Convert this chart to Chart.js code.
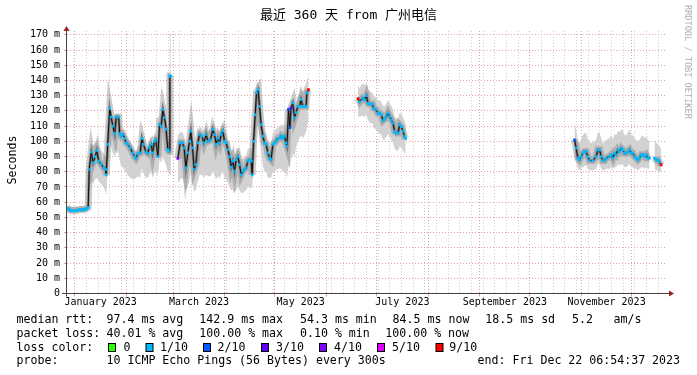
<!DOCTYPE html>
<html>
<head>
<meta charset="utf-8">
<script src="https://cdn.jsdelivr.net/npm/chart.js@4.4.0/dist/chart.umd.min.js"></script>
<style>
    html, body { margin: 0; padding: 0; background: #fff; }
    canvas { display: block; }
</style>
</head>
<body>
<canvas id="grafico" width="697" height="375"></canvas>
<script>
// Eje X en días desde el 1 de enero de 2023
const inicio = -4.71;   // 27 dic 2022 06:54
const fin = 355.29;     // 22 dic 2023 06:54

// Marcas del eje X
const iniciosMes = [0, 31, 59, 90, 120, 151, 181, 212, 243, 273, 304, 334];
const posEtiquetas = [15.5, 74.5, 135.5, 196.5, 258, 319];
const textoEtiquetas = ['January 2023', 'March 2023', 'May 2023', 'July 2023', 'September 2023', 'November 2023'];

// Marcas del eje Y (ms)
const marcasY = [0, 5, 10, 15, 20, 25, 30, 35, 40, 45, 50, 55, 60, 65, 70, 75, 80, 85,
    90, 95, 100, 105, 110, 115, 120, 125, 130, 135, 140, 145, 150, 155, 160, 165, 170];
const etiquetasY = ['0', '10 m', '20 m', '30 m', '40 m', '50 m', '60 m', '70 m', '80 m',
    '90 m', '100 m', '110 m', '120 m', '130 m', '140 m', '150 m', '160 m', '170 m'];

// Tramo 1: fin de dic - 1 mar
const t1Dia = [-4.6, -3.6, -2.6, -1.6, -0.6, 0.4, 1.4, 2.4, 3.4, 4.4,
    5.4, 6.4, 7.4, 8.0, 8.6, 9.8, 10.9, 12.2, 13.2, 14.3,
    15.8, 17.3, 18.5, 18.8, 19.7, 20.9, 21.8, 22.8, 23.9, 24.8,
    26.3, 26.9, 27.8, 28.8, 29.9, 30.8, 31.8, 33.2, 34.7, 35.9,
    36.6, 37.8, 39.2, 40.2, 41.2, 42.6, 43.8, 44.6, 45.8, 46.6,
    47.8, 48.6, 49.8, 50.8, 51.8, 52.8, 53.8, 54.8, 55.8, 56.6,
    57.0, 57.6];
const t1Med = [56, 55.5, 54.5, 54.5, 54.3, 54.5, 54.5, 55, 55, 55,
    55, 55.5, 56, 56.5, 81.5, 93, 86, 90, 94, 87,
    85, 82.5, 81.5, 78, 98, 121.6, 116, 110, 105, 116,
    116, 105, 103.4, 104.5, 102, 99, 98, 95.7, 92.4, 90,
    89, 91.8, 92.4, 102, 98, 93, 92, 96, 98, 92.4,
    100, 101, 90, 111, 110, 121, 115.5, 108, 94.6, 93.5,
    142.9, 142.9];
const t1Bajo = [53.5, 53.5, 53, 53, 53, 53, 53, 53.5, 53.5, 53.5,
    53.5, 54, 54, 54.5, 68, 74, 72, 75, 76, 74,
    72, 70, 66, 65, 80, 98, 96, 92, 90, 94,
    92, 87, 84, 83, 81, 79, 78, 76, 75, 75,
    76, 77, 76, 82, 79, 76, 76, 78, 80, 76,
    79, 80, 77, 88, 86, 90, 87, 84, 80, 79,
    78, 78];
const t1Alto = [57.5, 57.5, 57, 57, 57, 57, 57, 57, 57.5, 57.5,
    57.5, 58, 58.5, 59, 84, 99, 97, 99, 100, 97,
    94, 92, 90, 90, 105, 124, 120, 116, 117, 118,
    118, 110, 108, 108, 106, 103, 102, 100, 96, 94,
    93, 96, 98, 107, 103, 97, 96, 100, 104, 97,
    105, 106, 96, 116, 119, 126, 120, 112, 100, 100,
    171, 171];
const t1Perd = [1, 1, 1, 1, 1, 1, 1, 1, 1, 1,
    1, 1, 1, 1, 1, 1, 1, 1, 1, 1,
    1, 1, 1, 1, 1, 1, 1, 1, 1, 1,
    1, 1, 1, 1, 1, 1, 1, 1, 1, 1,
    1, 1, 1, 1, 1, 1, 1, 1, 1, 1,
    1, 1, 1, 1, 1, 1, 1, 1, 1, 1,
    1, 1];

// Tramo 2: 3 mar - 21 may
const t2Dia = [61.8, 63.2, 64.6, 65.6, 66.6, 67.8, 68.8, 69.6, 70.6, 71.6,
    72.6, 73.8, 74.8, 76.2, 77.4, 78.8, 79.8, 81.4, 82.8, 83.8,
    84.8, 85.8, 86.8, 87.8, 88.8, 89.8, 90.8, 91.8, 92.8, 93.8,
    94.8, 95.8, 96.8, 97.8, 98.8, 99.8, 100.8, 101.8, 102.8, 103.8,
    104.8, 105.8, 106.4, 107.2, 108.2, 109.0, 110.0, 110.8, 111.8, 112.8,
    113.8, 114.8, 115.8, 116.8, 117.7, 118.8, 119.8, 120.7, 121.8, 122.8,
    123.7, 124.8, 125.8, 126.7, 127.3, 128.2, 129.0, 129.7, 130.8, 131.8,
    132.7, 133.8, 134.8, 135.7, 136.8, 137.8, 138.7, 139.3, 140.2];
const t2Med = [88.7, 99, 99, 95.7, 82.5, 92.4, 100, 106.7, 95.7, 81.5,
    84.7, 99, 104.5, 103.4, 99, 104.5, 100, 101, 107.8, 104.5,
    98, 102, 99, 104.5, 106.7, 100, 99, 94.6, 90, 83,
    87, 80.4, 88, 90, 84.7, 78, 80.4, 81.5, 82.5, 87,
    88, 87, 78, 100, 117.6, 132, 134, 123, 111, 103.4,
    99, 98, 92.4, 89, 88, 98, 99, 100, 102, 102,
    103.4, 102, 103.4, 99, 96.8, 121, 109, 122, 125.3, 115.5,
    118.8, 123, 123, 127.5, 123, 123, 123, 132, 134];
const t2Bajo = [73, 75, 76, 72, 67, 70, 74, 80, 72, 67,
    68, 74, 78, 78, 76, 78, 77, 77, 80, 78,
    75, 77, 76, 78, 80, 76, 75, 73, 70, 68,
    68, 66, 68, 70, 68, 66, 66, 67, 68, 70,
    70, 69, 70, 80, 96, 108, 112, 104, 92, 84,
    80, 80, 76, 76, 76, 80, 80, 81, 82, 82,
    82, 80, 80, 78, 76, 84, 82, 88, 92, 90,
    96, 100, 102, 104, 102, 104, 106, 110, 114];
const t2Alto = [104, 106, 106, 103, 96, 101, 106, 111, 104, 94,
    98, 106, 110, 109, 106, 110, 106, 108, 112, 110,
    105, 108, 106, 110, 112, 106, 105, 101, 97, 93,
    95, 90, 95, 96, 93, 88, 89, 90, 91, 95,
    96, 95, 92, 106, 124, 138, 140, 130, 118, 110,
    106, 105, 100, 97, 96, 106, 106, 108, 109, 110,
    111, 110, 112, 108, 106, 124, 120, 126, 128, 122,
    126, 130, 131, 134, 133, 136, 138, 141, 142];
const t2Perd = [4, 1, 1, 1, 1, 1, 1, 1, 1, 1,
    1, 1, 1, 1, 1, 1, 1, 1, 1, 1,
    1, 1, 1, 1, 1, 1, 1, 1, 1, 1,
    1, 1, 1, 1, 1, 1, 1, 1, 1, 1,
    1, 1, 1, 1, 1, 1, 1, 1, 1, 1,
    1, 1, 1, 1, 1, 1, 1, 1, 1, 1,
    1, 1, 1, 1, 1, 2, 2, 3, 1, 1,
    1, 1, 1, 1, 1, 1, 1, 1, 9];

// Tramo 3: 19 jun - 18 jul
const t3Dia = [169.9, 170.9, 172.5, 173.9, 174.9, 175.9, 176.9, 178.5, 179.3, 180.5,
    181.9, 182.9, 183.9, 184.9, 185.9, 186.9, 187.9, 188.9, 189.9, 190.9,
    191.9, 192.9, 193.9, 194.9, 195.9, 196.9, 197.9, 198.5];
const t3Med = [128, 126, 128.4, 127.3, 130, 125, 124.5, 124.5, 121.8, 121,
    118.5, 118.5, 117.4, 113.7, 114.6, 116.3, 118.5, 116.3, 114, 112,
    106.5, 105.4, 105.4, 110.8, 109.7, 106.5, 103.2, 102];
const t3Bajo = [117, 116, 117, 116, 118, 114, 112, 112, 109, 108,
    106, 105, 104, 101, 101, 103, 105, 103, 101, 99,
    95, 94, 94, 97, 96, 94, 92, 92];
const t3Alto = [137, 135, 138, 137, 138, 134, 133, 132, 130, 129,
    127, 127, 126, 123, 123, 125, 127, 125, 123, 121,
    116, 115, 115, 119, 118, 116, 113, 112];
const t3Perd = [9, 1, 1, 1, 1, 1, 1, 1, 1, 1,
    1, 1, 1, 1, 1, 1, 1, 1, 1, 1,
    1, 1, 1, 1, 1, 1, 1, 1];

// Tramo 4: 27 oct - 11 dic
const t4Dia = [299.8, 300.8, 301.8, 302.8, 303.8, 304.8, 305.8, 306.8, 307.8, 308.8,
    310.8, 312.8, 313.8, 314.8, 315.8, 316.8, 317.8, 318.8, 320.8, 321.8,
    322.8, 323.8, 324.8, 325.8, 326.8, 327.8, 328.8, 329.8, 330.8, 331.8,
    332.8, 333.8, 334.8, 335.8, 336.8, 337.8, 338.8, 339.8, 340.8, 341.8,
    342.8, 343.8, 344.8];
const t4Med = [101, 95.5, 89, 87.8, 90, 92.2, 93.3, 93.3, 90, 87.4,
    87.4, 90, 94.4, 94.4, 90, 87.4, 87.4, 89, 90, 91.1,
    89, 92.2, 91.1, 94.4, 93.3, 95.5, 94.4, 92.2, 92.2, 93.3,
    94.4, 92.2, 92.2, 90, 89, 87.8, 89, 91.1, 91.1, 90,
    91.1, 89, 89];
const t4Bajo = [90, 86, 82, 81, 82, 83, 84, 84, 82, 81,
    81, 82, 85, 85, 82, 81, 81, 82, 82, 83,
    82, 83, 83, 85, 84, 85, 85, 83, 83, 84,
    85, 83, 83, 82, 82, 81, 82, 83, 83, 82,
    83, 82, 82];
const t4Alto = [112, 108, 100, 99, 101, 104, 106, 105, 101, 99,
    99, 101, 106, 106, 102, 99, 99, 101, 102, 104,
    101, 105, 104, 107, 106, 108, 107, 104, 104, 106,
    108, 104, 104, 102, 101, 100, 101, 103, 104, 102,
    103, 101, 100];
const t4Perd = [2, 1, 1, 1, 1, 1, 1, 1, 1, 1,
    1, 1, 1, 1, 1, 1, 1, 1, 1, 1,
    1, 1, 1, 1, 1, 1, 1, 1, 1, 1,
    1, 1, 1, 1, 1, 1, 1, 1, 1, 1,
    1, 1, 1];

// Tramo 5: 14 - 18 dic
const t5Dia = [347.8, 348.8, 349.8, 350.8, 351.8];
const t5Med = [89, 87.8, 87.8, 86.4, 84.5];
const t5Bajo = [82, 81, 81, 80, 80];
const t5Alto = [101, 99, 98, 97, 95];
const t5Perd = [1, 1, 1, 1, 9];

// Colores de pérdida de paquetes
const colorPerdida = { 0: '#26ff00', 1: '#00b8ff', 2: '#0059ff', 3: '#5e00ff', 4: '#7e00ff', 5: '#dd00ff', 9: '#ff0000' };

const tramos = [
    { dia: t1Dia, med: t1Med, bajo: t1Bajo, alto: t1Alto, perd: t1Perd },
    { dia: t2Dia, med: t2Med, bajo: t2Bajo, alto: t2Alto, perd: t2Perd },
    { dia: t3Dia, med: t3Med, bajo: t3Bajo, alto: t3Alto, perd: t3Perd },
    { dia: t4Dia, med: t4Med, bajo: t4Bajo, alto: t4Alto, perd: t4Perd },
    { dia: t5Dia, med: t5Med, bajo: t5Bajo, alto: t5Alto, perd: t5Perd }
];

// Une los tramos con un punto nulo entre ellos para cortar la línea
function serie(campo) {
    const puntos = [];
    tramos.forEach((t, i) => {
        if (i > 0) puntos.push({ x: (tramos[i - 1].dia[tramos[i - 1].dia.length - 1] + t.dia[0]) / 2, y: null });
        t.dia.forEach((d, j) => puntos.push({ x: d, y: t[campo][j] }));
    });
    return puntos;
}

function coloresPuntos() {
    const colores = [];
    tramos.forEach((t, i) => {
        if (i > 0) colores.push('rgba(0,0,0,0)');
        t.perd.forEach(p => colores.push(colorPerdida[p]));
    });
    return colores;
}

const marcasX = [];
for (let d = 0; d <= 350; d += 7) marcasX.push(d);  // domingos
iniciosMes.forEach(d => { if (!marcasX.includes(d)) marcasX.push(d); });
posEtiquetas.forEach(d => marcasX.push(d));
marcasX.sort((a, b) => a - b);

const rojo = '#e3a0a0';
const gris = '#cfcfcf';
const fuenteMono = '"DejaVu Sans Mono", monospace';

const decoracion = {
    id: 'decoracion',
    afterDatasetsDraw(chart) {
        const ctx = chart.ctx;
        const area = chart.chartArea;
        const x0 = area.left - 0.5;
        const y0 = area.bottom;
        ctx.save();

        // Ejes con flechas
        ctx.strokeStyle = '#444';
        ctx.lineWidth = 1;
        ctx.beginPath();
        ctx.moveTo(62, y0);
        ctx.lineTo(670, y0);
        ctx.moveTo(x0, y0 + 3);
        ctx.lineTo(x0, 29);
        ctx.stroke();
        ctx.fillStyle = '#9b2020';
        ctx.beginPath();
        ctx.moveTo(x0 - 3, 31);
        ctx.lineTo(x0 + 3, 31);
        ctx.lineTo(x0, 26);
        ctx.closePath();
        ctx.fill();
        ctx.beginPath();
        ctx.moveTo(669, y0 - 3);
        ctx.lineTo(669, y0 + 3);
        ctx.lineTo(674, y0);
        ctx.closePath();
        ctx.fill();
        ctx.restore();
    },
    afterDraw(chart) {
        const ctx = chart.ctx;
        ctx.save();
        ctx.fillStyle = '#000';
        ctx.textBaseline = 'alphabetic';

        // Título
        ctx.font = '13px "DejaVu Sans Mono", "Noto Sans CJK SC"';
        ctx.textAlign = 'center';
        ctx.fillText('最近 360 天 from 广州电信', 348.5, 19);

        // Título del eje Y
        ctx.font = '11.6px ' + fuenteMono;
        ctx.save();
        ctx.translate(15.5, 160);
        ctx.rotate(-Math.PI / 2);
        ctx.fillText('Seconds', 0, 0);
        ctx.restore();

        // Marca de agua
        ctx.save();
        ctx.fillStyle = '#b0b0b0';
        ctx.font = '8.6px ' + fuenteMono;
        ctx.textAlign = 'left';
        ctx.translate(685, 5);
        ctx.rotate(Math.PI / 2);
        ctx.fillText('RRDTOOL / TOBI OETIKER', 0, 0);
        ctx.restore();

        // Leyenda
        ctx.textAlign = 'left';
        ctx.font = '11.6px ' + fuenteMono;
        const lineas = [
            [322.7, [[16.5, 'median rtt:'], [106.5, '97.4 ms avg'], [199.3, '142.9 ms max'], [300, '54.3 ms min'],
                [392.6, '84.5 ms now'], [485.3, '18.5 ms sd'], [572, '5.2'], [613.6, 'am/s']]],
            [336.6, [[16.5, 'packet loss:'], [106.5, '40.01 % avg'], [199.3, '100.00 % max'], [300, '0.10 % min'],
                [385.3, '100.00 % now']]],
            [350.5, [[16.5, 'loss color:'], [123.5, '0'], [160, '1/10'], [217.6, '2/10'], [276, '3/10'],
                [334, '4/10'], [392, '5/10'], [449.3, '9/10']]],
            [364.3, [[16.5, 'probe:'], [106.5, '10 ICMP Echo Pings (56 Bytes) every 300s'],
                [477.6, 'end: Fri Dec 22 06:54:37 2023']]]
        ];
        lineas.forEach(([y, piezas]) => {
            piezas.forEach(([x, texto]) => ctx.fillText(texto, x, y));
        });

        // Cuadros de color de pérdida
        const cajas = [[108.5, 0], [146, 1], [203.5, 2], [261.5, 3], [319.5, 4], [377.5, 5], [436, 9]];
        cajas.forEach(([x, p]) => {
            ctx.fillStyle = colorPerdida[p];
            ctx.fillRect(x, 343.5, 7, 8);
            ctx.strokeStyle = '#000';
            ctx.strokeRect(x, 343.5, 7, 8);
        });
        ctx.restore();
    }
};

const ctx = document.getElementById('grafico').getContext('2d');
const chart = new Chart(ctx, {
    type: 'line',
    data: {
        datasets: [
            {
                label: 'mediana',
                data: serie('med'),
                borderColor: '#111',
                borderWidth: 1,
                pointStyle: 'rect',
                pointRadius: 1.9,
                pointBorderWidth: 0,
                pointBackgroundColor: coloresPuntos(),
                order: 0
            },
            {
                label: 'humo oscuro',
                data: serie('med'),
                borderColor: 'rgba(70,70,70,0.55)',
                borderWidth: 2.5,
                pointRadius: 0,
                order: 1
            },
            {
                label: 'humo medio',
                data: serie('med'),
                borderColor: 'rgba(110,110,110,0.35)',
                borderWidth: 7,
                pointRadius: 0,
                order: 2
            },
            {
                label: 'humo alto',
                data: serie('alto'),
                borderWidth: 0,
                borderColor: 'rgba(0,0,0,0)',
                backgroundColor: '#d2d2d2',
                pointRadius: 0,
                fill: '+1',
                order: 3
            },
            {
                label: 'humo bajo',
                data: serie('bajo'),
                borderWidth: 0,
                borderColor: 'rgba(0,0,0,0)',
                pointRadius: 0,
                order: 4
            }
        ]
    },
    options: {
        responsive: false,
        animation: false,
        devicePixelRatio: 1,
        spanGaps: false,
        layout: { padding: { top: 31, right: 30, left: 0, bottom: 0 } },
        plugins: {
            legend: { display: false },
            tooltip: { enabled: false },
            title: { display: false }
        },
        scales: {
            x: {
                type: 'linear',
                min: inicio,
                max: fin,
                afterBuildTicks: s => { s.ticks = marcasX.map(v => ({ value: v })); },
                afterFit: s => { s.height = 81.5; },
                grid: {
                    color: c => posEtiquetas.includes(c.tick.value) ? 'rgba(0,0,0,0)' : (iniciosMes.includes(c.tick.value) ? rojo : gris),
                    tickColor: c => iniciosMes.includes(c.tick.value) ? rojo : 'rgba(0,0,0,0)',
                    tickLength: 3,
                    lineWidth: 1
                },
                border: { display: false, dash: [1, 2] },
                ticks: {
                    autoSkip: false,
                    maxRotation: 0,
                    padding: 0,
                    color: '#000',
                    font: { family: fuenteMono, size: 10 },
                    callback: v => {
                        const i = posEtiquetas.indexOf(v);
                        return i >= 0 ? textoEtiquetas[i] : '';
                    }
                }
            },
            y: {
                type: 'linear',
                min: 0,
                max: 172.5,
                afterBuildTicks: s => { s.ticks = marcasY.map(v => ({ value: v })); },
                afterFit: s => { s.width = 67; },
                grid: {
                    color: c => c.tick.value % 10 === 0 ? rojo : gris,
                    tickColor: c => c.tick.value % 10 === 0 ? rojo : 'rgba(0,0,0,0)',
                    tickLength: 3,
                    lineWidth: 1
                },
                border: { display: false, dash: [1, 2] },
                ticks: {
                    padding: 4,
                    color: '#000',
                    font: { family: fuenteMono, size: 10 },
                    callback: v => v % 10 === 0 ? etiquetasY[v / 10] : ''
                }
            }
        }
    },
    plugins: [decoracion]
});
</script>
</body>
</html>
